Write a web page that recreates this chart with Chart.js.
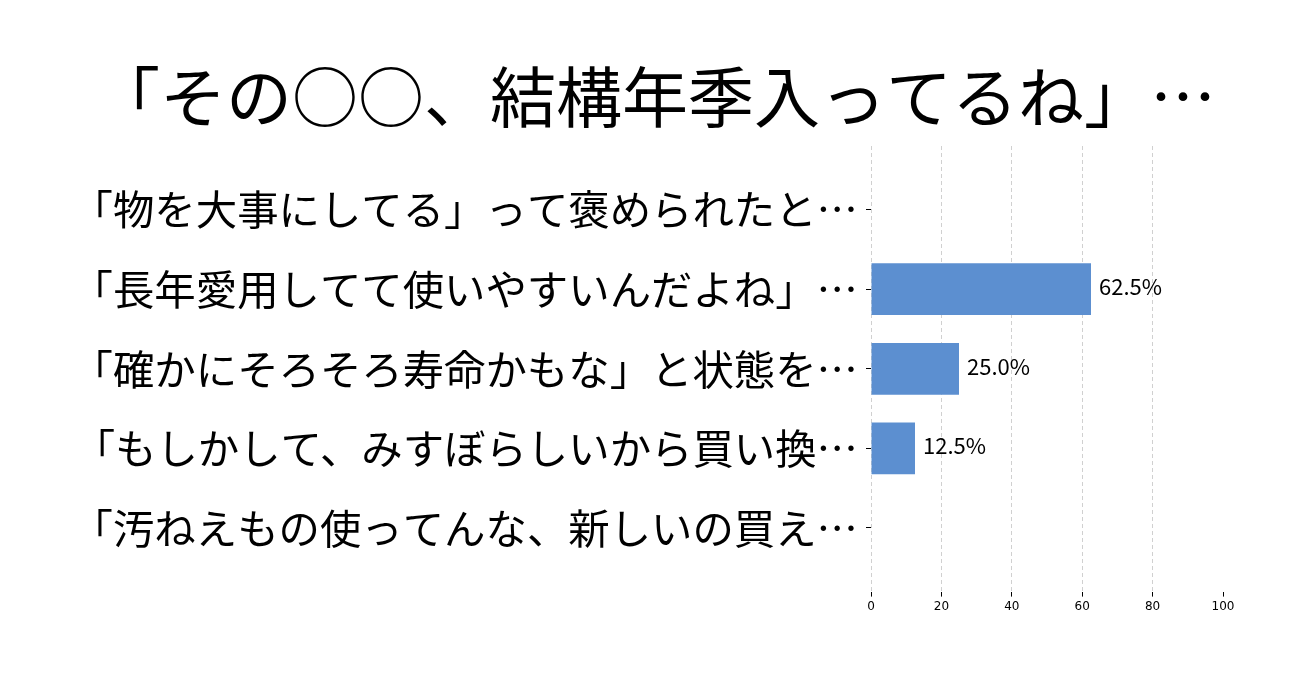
<!DOCTYPE html>
<html><head><meta charset="utf-8">
<script src="https://cdn.jsdelivr.net/npm/chart.js@4/dist/chart.umd.min.js"></script>
<style>html,body{margin:0;padding:0;background:#fff}#wrap{width:1306px;height:683px}</style>
</head><body><div id="wrap"><canvas id="c" width="1306" height="683"></canvas></div>
<script>
const titleText = "「その○○、結構年季入ってるね」…";
const categories = [
  "「物を大事にしてる」って褒められたと…",
  "「長年愛用してて使いやすいんだよね」…",
  "「確かにそろそろ寿命かもな」と状態を…",
  "「もしかして、みすぼらしいから買い換…",
  "「汚ねえもの使ってんな、新しいの買え…"
];
const values = [0, 62.5, 25.0, 12.5, 0];
const xTicks = [0, 20, 40, 60, 80, 100];

const JP = "'Noto Sans CJK JP', 'Noto Sans', sans-serif";

const valueLabels = {
  id: 'valueLabels',
  afterDatasetsDraw(chart) {
    const ctx = chart.ctx;
    const meta = chart.getDatasetMeta(0);
    ctx.save();
    ctx.font = "22px " + JP;
    ctx.fillStyle = '#000';
    ctx.textAlign = 'left';
    ctx.textBaseline = 'middle';
    meta.data.forEach((bar, i) => {
      const v = values[i];
      if (!v) return;
      ctx.fillText(v.toFixed(1) + '%', bar.x + 8, bar.y - 2.5);
    });
    ctx.restore();
  }
};

const bigTitle = {
  id: 'bigTitle',
  afterDraw(chart) {
    const ctx = chart.ctx;
    ctx.save();
    ctx.font = "66px " + JP;
    ctx.fillStyle = '#000';
    ctx.textAlign = 'left';
    ctx.textBaseline = 'middle';
    ctx.fillText(titleText, 94, 97);
    ctx.restore();
  }
};

new Chart(document.getElementById('c'), {
  type: 'bar',
  data: {
    datasets: [{
      data: values.map((v, i) => ({x: v, y: i})),
      backgroundColor: 'rgb(92,143,208)',
      borderWidth: 0,
      barPercentage: 0.65,
      categoryPercentage: 1.0
    }]
  },
  options: {
    indexAxis: 'y',
    responsive: false,
    animation: false,
    layout: {padding: {left: 0, right: 83, top: 146, bottom: 66}},
    plugins: {
      legend: {display: false},
      tooltip: {enabled: false},
      title: {display: false}
    },
    scales: {
      x: {
        type: 'linear',
        min: 0, max: 100,
        afterBuildTicks: (axis) => { axis.ticks = xTicks.map(v => ({value: v})); },
        border: {display: false, dash: [4, 3]},
        grid: {
          color: (c) => (c.tick && c.tick.value === 100) ? 'rgba(0,0,0,0)' : '#d0d0d0',
          lineWidth: 1,
          drawTicks: true,
          tickLength: 5,
          tickColor: '#000',
          tickBorderDash: []
        },
        ticks: {
          color: '#000',
          font: {family: "'DejaVu Sans', sans-serif", size: 12},
          padding: 3,
          maxRotation: 0
        }
      },
      y: {
        type: 'linear',
        reverse: true,
        offset: false,
        min: -0.8, max: 4.8,
        afterBuildTicks: (axis) => { axis.ticks = categories.map((_, i) => ({value: i})); },
        afterFit: (scale) => { scale.width = 871; },
        border: {display: false},
        grid: {
          offset: false,
          drawOnChartArea: false,
          drawTicks: true,
          tickLength: 5,
          tickColor: '#000'
        },
        ticks: {
          color: '#000',
          font: {family: JP, size: 41.4},
          padding: 8,
          callback: (v) => categories[v] !== undefined ? categories[v] : ''
        }
      }
    }
  },
  plugins: [valueLabels, bigTitle]
});
</script>
</body></html>
